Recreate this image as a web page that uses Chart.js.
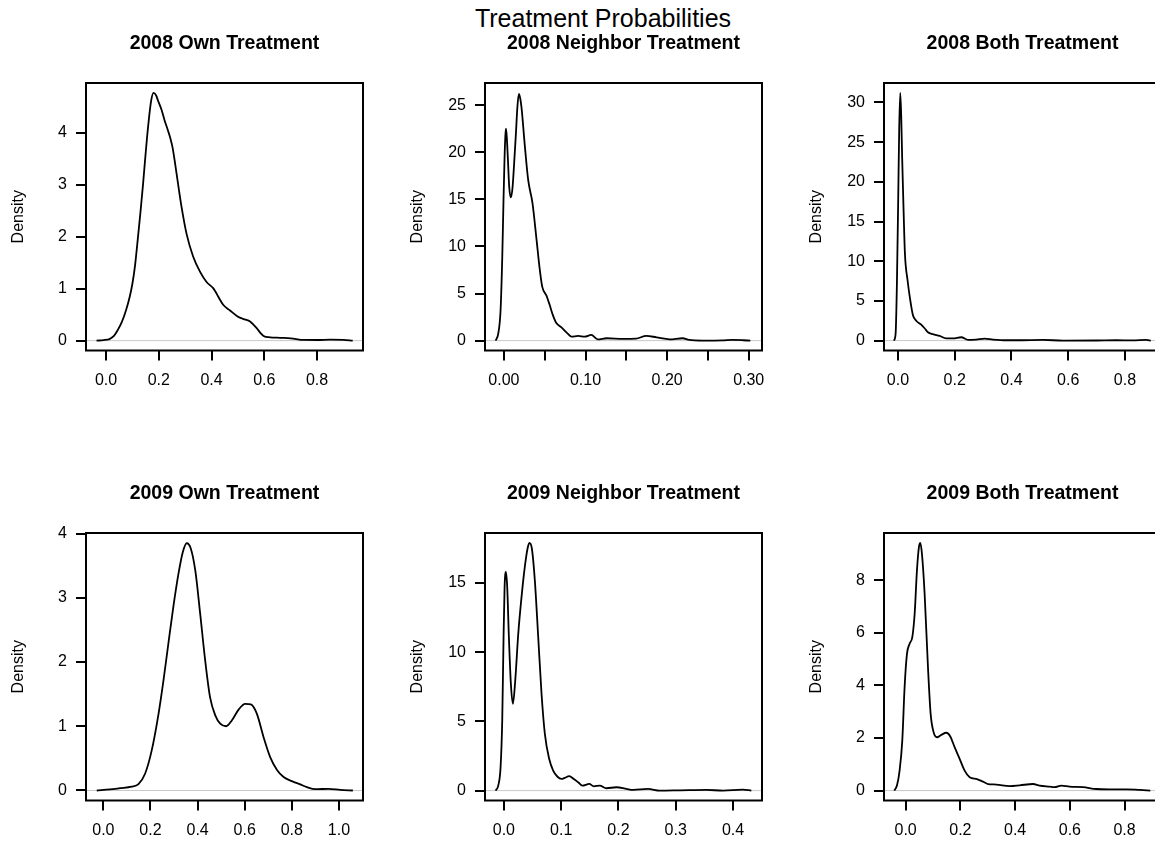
<!DOCTYPE html>
<html>
<head>
<meta charset="utf-8">
<script src="https://cdn.jsdelivr.net/npm/chart.js@4.4.1/dist/chart.umd.min.js"></script>
<style>
  html, body { margin: 0; padding: 0; background: #fff; overflow: hidden; }
  #page { position: relative; width: 1155px; height: 842px; overflow: hidden; }
  #page canvas { position: absolute; }
  #main { position: absolute; left: 0; top: 6px; width: 1206px; text-align: center;
          font: 25px 'Liberation Sans', Arial, sans-serif; line-height: 25px; color: #000; }
</style>
</head>
<body>
<div id="page">
  <div id="main">Treatment Probabilities</div>
</div>
<script>
// density estimates
const own08X = [-0.036, -0.01, 0.013, 0.03, 0.044, 0.06, 0.076, 0.09, 0.10, 0.11,
  0.12, 0.13, 0.14, 0.15, 0.159, 0.171, 0.18, 0.19, 0.197, 0.21,
  0.222, 0.235, 0.244, 0.252, 0.26, 0.272, 0.286, 0.305, 0.33, 0.356,
  0.381, 0.406, 0.415, 0.425, 0.444, 0.47, 0.50, 0.525, 0.546, 0.56,
  0.571, 0.585, 0.597, 0.622, 0.66, 0.70, 0.75, 0.80, 0.85, 0.90, 0.935];
const own08Y = [0, 0.01, 0.03, 0.09, 0.2, 0.36, 0.59, 0.85, 1.1, 1.45,
  1.94, 2.45, 3.0, 3.6, 4.1, 4.62, 4.77, 4.72, 4.62, 4.45,
  4.24, 4.04, 3.89, 3.72, 3.47, 3.05, 2.58, 2.06, 1.62, 1.33,
  1.13, 1.01, 0.94, 0.85, 0.69, 0.58, 0.46, 0.41, 0.37, 0.3,
  0.24, 0.15, 0.09, 0.064, 0.055, 0.045, 0.013, 0.012, 0.02, 0.013, 0];

const nbr08X = [-0.0102, -0.0069, -0.0041, -0.002, -0.0005, 0.0008, 0.0018, 0.0025, 0.0035, 0.005,
  0.0065, 0.0086, 0.0105, 0.0125, 0.0147, 0.0165, 0.0183, 0.02, 0.0216, 0.0257,
  0.0298, 0.035, 0.040, 0.044, 0.047, 0.052, 0.056, 0.060, 0.064, 0.0705,
  0.0766, 0.0828, 0.091, 0.099, 0.107, 0.115, 0.126, 0.146, 0.162, 0.1745,
  0.187, 0.203, 0.219, 0.227, 0.244, 0.268, 0.28, 0.293, 0.302];
const nbr08Y = [0, 0.78, 3.25, 9.0, 15.0, 19.5, 21.8, 22.5, 21.6, 19.0,
  16.3, 15.2, 16.2, 18.8, 22.0, 24.8, 26.2, 25.7, 24.7, 20.6,
  17.0, 14.6, 10.7, 7.5, 5.7, 4.8, 3.8, 2.7, 1.9, 1.41,
  0.88, 0.42, 0.5, 0.42, 0.6, 0.14, 0.25, 0.18, 0.21, 0.5,
  0.35, 0.14, 0.25, 0.07, 0, 0.02, 0.07, 0.04, 0];

const both08X = [-0.014, -0.008, -0.0035, 0.001, 0.0047, 0.0082, 0.0115, 0.015, 0.019, 0.0247,
  0.034, 0.0435, 0.053, 0.0646, 0.082, 0.094, 0.1058, 0.123, 0.147, 0.170,
  0.194, 0.223, 0.247, 0.276, 0.3055, 0.335, 0.382, 0.429, 0.511, 0.582,
  0.70, 0.77, 0.828, 0.875, 0.891];
const both08Y = [0, 0.9, 7.2, 17.7, 26.9, 31.2, 28.5, 23.0, 17.7, 11.0,
  7.6, 5.1, 3.2, 2.5, 2.0, 1.55, 1.05, 0.8, 0.59, 0.29,
  0.29, 0.42, 0.08, 0.13, 0.25, 0.13, 0.04, 0.04, 0.08, 0,
  0.01, 0.04, 0.02, 0.08, 0];

const own09X = [-0.028, 0.028, 0.071, 0.12, 0.149, 0.177, 0.205, 0.234, 0.255, 0.276,
  0.297, 0.319, 0.337, 0.354, 0.371, 0.39, 0.411, 0.432, 0.453, 0.475,
  0.496, 0.521, 0.545, 0.574, 0.602, 0.626, 0.652, 0.68, 0.708, 0.737,
  0.765, 0.80, 0.836, 0.864, 0.90, 0.956, 1.006, 1.059];
const own09Y = [0, 0.016, 0.036, 0.06, 0.10, 0.26, 0.62, 1.19, 1.71, 2.29,
  2.86, 3.38, 3.71, 3.85, 3.77, 3.43, 2.75, 2.03, 1.45, 1.17,
  1.04, 1.0, 1.09, 1.26, 1.35, 1.34, 1.19, 0.83, 0.52, 0.32,
  0.21, 0.145, 0.094, 0.052, 0.02, 0.026, 0.01, 0];

const nbr09X = [-0.0145, -0.0099, -0.0058, -0.0029, -0.0006, 0.0012, 0.0035, 0.0058, 0.0087, 0.0122,
  0.0157, 0.0198, 0.025, 0.0308, 0.0366, 0.0413, 0.0445, 0.0488, 0.054, 0.0599,
  0.0657, 0.0715, 0.079, 0.086, 0.0936, 0.1006, 0.106, 0.114, 0.122, 0.1297,
  0.137, 0.149, 0.157, 0.1674, 0.179, 0.1965, 0.214, 0.2256, 0.2517, 0.272,
  0.307, 0.3535, 0.3826, 0.417, 0.432];
const nbr09Y = [0, 0.36, 1.7, 5.1, 11.1, 14.7, 15.8, 14.7, 11.1, 7.7,
  6.27, 7.96, 11.3, 14.0, 16.2, 17.5, 17.9, 17.5, 15.2, 11.1,
  7.0, 4.1, 2.3, 1.45, 1.0, 0.84, 0.92, 1.04, 0.84, 0.6,
  0.36, 0.48, 0.31, 0.36, 0.17, 0.24, 0.12, 0.05, 0.12, 0,
  0.02, 0.05, 0, 0.07, 0];

const both09X = [-0.0414, -0.0317, -0.022, -0.0122, -0.0037, 0.0049, 0.0146, 0.0244, 0.033, 0.0414,
  0.0487, 0.0536, 0.0597, 0.0694, 0.0816, 0.0914, 0.1023, 0.1145, 0.1303, 0.1486,
  0.1632, 0.179, 0.1973, 0.2156, 0.2339, 0.2606, 0.2826, 0.3009, 0.3313, 0.38,
  0.4166, 0.4653, 0.4896, 0.526, 0.5445, 0.569, 0.599, 0.648, 0.6967, 0.745,
  0.806, 0.855, 0.894];
const both09Y = [0, 0.19, 0.76, 1.9, 3.94, 5.2, 5.59, 5.84, 6.73, 8.38,
  9.27, 9.42, 9.0, 7.49, 4.7, 2.92, 2.22, 2.03, 2.12, 2.2,
  2.06, 1.65, 1.21, 0.76, 0.51, 0.44, 0.34, 0.25, 0.23, 0.17,
  0.2, 0.25, 0.19, 0.15, 0.13, 0.19, 0.15, 0.13, 0.06, 0.05,
  0.05, 0.025, 0];

// ticks
const ticks08 = [0, 0.2, 0.4, 0.6, 0.8];
const ticks08Labels = ['0.0', '0.2', '0.4', '0.6', '0.8'];
const ticksNbr08 = [0, 0.05, 0.10, 0.15, 0.20, 0.25, 0.30];
const ticksNbr08Labels = ['0.00', '', '0.10', '', '0.20', '', '0.30'];
const ticksOwn09 = [0, 0.2, 0.4, 0.6, 0.8, 1.0];
const ticksOwn09Labels = ['0.0', '0.2', '0.4', '0.6', '0.8', '1.0'];
const ticksNbr09 = [0, 0.1, 0.2, 0.3, 0.4];
const ticksNbr09Labels = ['0.0', '0.1', '0.2', '0.3', '0.4'];

const yOwn08 = [0, 1, 2, 3, 4];
const yNbr08 = [0, 5, 10, 15, 20, 25];
const yBoth08 = [0, 5, 10, 15, 20, 25, 30];
const yOwn09 = [0, 1, 2, 3, 4];
const yNbr09 = [0, 5, 10, 15];
const yBoth09 = [0, 2, 4, 6, 8];

const panels = [
  { title: '2008 Own Treatment', xs: own08X, ys: own08Y, xt: ticks08, xl: ticks08Labels, yt: yOwn08, xr: [-0.076, 0.974], yr: [-0.19, 4.96] },
  { title: '2008 Neighbor Treatment', xs: nbr08X, ys: nbr08Y, xt: ticksNbr08, xl: ticksNbr08Labels, yt: yNbr08, xr: [-0.0232, 0.3163], yr: [-1.05, 27.35] },
  { title: '2008 Both Treatment', xs: both08X, ys: both08Y, xt: ticks08, xl: ticks08Labels, yt: yBoth08, xr: [-0.049, 0.927], yr: [-1.25, 32.45] },
  { title: '2009 Own Treatment', xs: own09X, ys: own09Y, xt: ticksOwn09, xl: ticksOwn09Labels, yt: yOwn09, xr: [-0.0737, 1.102], yr: [-0.156, 4.01] },
  { title: '2009 Neighbor Treatment', xs: nbr09X, ys: nbr09Y, xt: ticksNbr09, xl: ticksNbr09Labels, yt: yNbr09, xr: [-0.033, 0.4506], yr: [-0.716, 18.62] },
  { title: '2009 Both Treatment', xs: both09X, ys: both09Y, xt: ticks08, xl: ticks08Labels, yt: yBoth09, xr: [-0.079, 0.933], yr: [-0.377, 9.8] }
];

const colLeft = [0, 399, 798];
const rowTop = [0, 450];

Chart.defaults.font.family = "'Liberation Sans', Arial, sans-serif";
Chart.defaults.color = '#000';

// gray zero line under the curve, box round the plot region on top
const rFrame = {
  id: 'rFrame',
  beforeDatasetsDraw(chart) {
    const { ctx, chartArea: a, scales: { y } } = chart;
    const y0 = y.getPixelForValue(0);
    ctx.save();
    ctx.strokeStyle = '#c8c8c8';
    ctx.lineWidth = 1;
    ctx.beginPath();
    ctx.moveTo(a.left, y0);
    ctx.lineTo(a.right, y0);
    ctx.stroke();
    ctx.restore();
  },
  afterDatasetsDraw(chart) {
    const { ctx, chartArea: a } = chart;
    ctx.save();
    ctx.strokeStyle = '#000';
    ctx.lineWidth = 2;
    ctx.strokeRect(a.left, a.top, a.right - a.left, a.bottom - a.top);
    ctx.restore();
  }
};

const page = document.getElementById('page');

panels.forEach((p, i) => {
  const cv = document.createElement('canvas');
  cv.width = 393;
  cv.height = 390;
  cv.style.left = colLeft[i % 3] + 'px';
  cv.style.top = rowTop[Math.floor(i / 3)] + 'px';
  page.appendChild(cv);

  const tickGrid = { display: true, drawOnChartArea: false, drawTicks: true, tickLength: 10, color: '#000', lineWidth: 2 };

  new Chart(cv, {
    type: 'line',
    data: {
      datasets: [{
        data: p.xs.map((x, k) => ({ x: x, y: p.ys[k] })),
        borderColor: '#000',
        borderWidth: 1.8,
        pointRadius: 0,
        fill: false,
        cubicInterpolationMode: 'monotone'
      }]
    },
    options: {
      responsive: false,
      animation: false,
      events: [],
      layout: { padding: { left: 0, top: 0, right: 30, bottom: 0 }, autoPadding: false },
      plugins: {
        legend: { display: false },
        tooltip: { enabled: false },
        title: {
          display: true,
          fullSize: false,
          text: p.title,
          color: '#000',
          font: { size: 19.5, weight: 'bold' },
          padding: { top: 31.5, bottom: 28.1 }
        }
      },
      scales: {
        x: {
          type: 'linear',
          min: p.xr[0],
          max: p.xr[1],
          afterFit: s => { s.height = 39.5; },
          afterBuildTicks: s => { s.ticks = p.xt.map(v => ({ value: v })); },
          ticks: {
            autoSkip: false,
            maxRotation: 0,
            padding: 10.7,
            font: { size: 16 },
            callback: (v, k) => p.xl[k]
          },
          grid: tickGrid,
          border: { display: false }
        },
        y: {
          type: 'linear',
          min: p.yr[0],
          max: p.yr[1],
          afterFit: s => { s.width = 86; },
          afterBuildTicks: s => { s.ticks = p.yt.map(v => ({ value: v })); },
          ticks: {
            padding: 9,
            font: { size: 16 },
            callback: v => String(v)
          },
          grid: tickGrid,
          border: { display: false },
          title: {
            display: true,
            text: 'Density',
            font: { size: 16 },
            padding: { top: 9, bottom: 0 }
          }
        }
      }
    },
    plugins: [rFrame]
  });
});
</script>
</body>
</html>
